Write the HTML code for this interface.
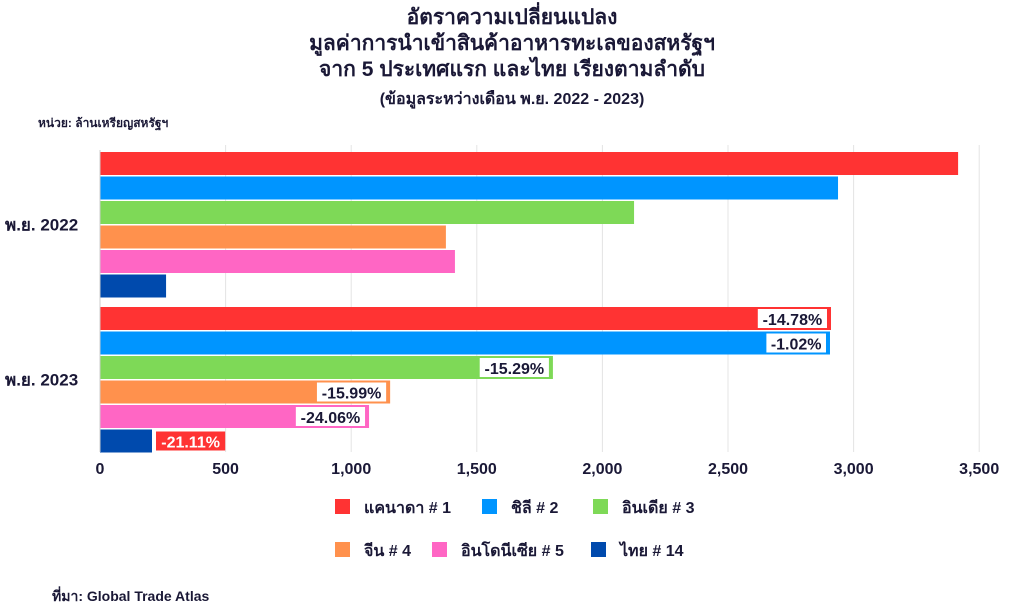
<!DOCTYPE html>
<html><head><meta charset="utf-8"><style>
body{margin:0;width:1024px;height:610px;background:#fff;font-family:"Liberation Sans","Noto Sans CJK SC",sans-serif;color:#1a1836;overflow:hidden;position:relative}
.t{position:absolute;left:0;width:1024px;text-align:center;font-weight:bold}
</style></head><body>
<div class="t" style="top:5px;font-size:21px;line-height:26px">อัตราความเปลี่ยนแปลง<br>มูลค่าการนำเข้าสินค้าอาหารทะเลของสหรัฐฯ<br>จาก 5 ประเทศแรก และไทย เรียงตามลำดับ</div>
<div class="t" style="top:87px;font-size:16px">(ข้อมูลระหว่างเดือน พ.ย. 2022 - 2023)</div>
<div style="position:absolute;left:38px;top:114px;font-size:12px;font-weight:bold">หน่วย: ล้านเหรียญสหรัฐฯ</div>
<div style="position:absolute;left:52px;top:586px;font-size:14px;font-weight:bold">ที่มา: Global Trade Atlas</div>
<svg id="c" width="1024" height="610" style="position:absolute;left:0;top:0"></svg>
<script>
const categories=["พ.ย. 2022","พ.ย. 2023"];
const countries=["แคนาดา # 1","ชิลี # 2","อินเดีย # 3","จีน # 4","อินโดนีเซีย # 5","ไทย # 14"];
const v2022=[3416,2938,2126,1377,1413,263];
const v2023=[2910,2906,1803,1155,1071,207];
const changes=["-14.78%","-1.02%","-15.29%","-15.99%","-24.06%","-21.11%"];
const ticks=[0,500,1000,1500,2000,2500,3000,3500];
const colors=["#ff3333","#0095ff","#7ed957","#ff914d","#ff66c4","#004aad"];
const NS="http://www.w3.org/2000/svg",svg=document.getElementById('c');
const x=v=>100+v*0.2512;
const groupTop=[152,307],pitch=24.5,bh=23;
function mk(t,a){const e=document.createElementNS(NS,t);for(const k in a)e.setAttribute(k,a[k]);svg.appendChild(e);return e;}
ticks.forEach(t=>{
 if(t>0){const g=mk('line',{x1:x(t),x2:x(t),y1:145,y2:452,stroke:'#e4e4e4','stroke-width':1});
 
 }
 const l=mk('text',{x:x(t),y:474,'text-anchor':'middle','font-size':16,'font-weight':'bold',fill:'#1a1836'});l.textContent=t.toLocaleString('en-US');
 
 
});
[v2022,v2023].forEach((vals,gi)=>{
 const cl=mk('text',{x:5,y:groupTop[gi]+pitch*3+5,'font-size':17,'font-weight':'bold',fill:'#1a1836'});cl.textContent=categories[gi];
 
 
 vals.forEach((v,i)=>{
  const y=groupTop[gi]+i*pitch;
  const r=mk('rect',{x:100,y:y,width:x(v)-100,height:bh,fill:colors[i]});
  
  
  if(gi==1){
   const txt=changes[i],w=txt.length*9.6+2,last=i==5;
   const bx=last?x(v)+4:x(v)-w-4;
   const b=mk('rect',{x:bx,y:y+2,width:w,height:bh-4,fill:last?'#ff3333':'#fff'});
   
   
   const t=mk('text',{x:bx+w/2,y:y+18,'text-anchor':'middle','font-size':16,'font-weight':'bold',fill:last?'#fff':'#1a1836'});t.textContent=txt;
   
   
  }
 });
});
const ax=mk('line',{x1:100,x2:100,y1:150,y2:452,stroke:'#ccc'});


const legPos=[[335,507],[482,507],[593,507],[335,550],[432,550],[591,550]];
countries.forEach((c,i)=>{
 const [lx,ly]=legPos[i];
 const s=mk('rect',{x:lx,y:ly-8,width:15,height:15,fill:colors[i]});
 
 
 const t=mk('text',{x:lx+29,y:ly+6,'font-size':16,'font-weight':'bold',fill:'#1a1836'});t.textContent=c;
 
 
});
</script>
</body></html>
